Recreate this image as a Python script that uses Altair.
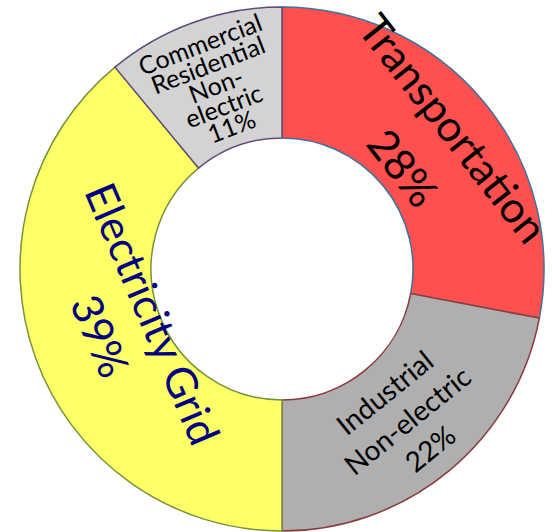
import altair as alt
import pandas as pd

categories = ["Transportation", "Industrial Non-electric", "Electricity Grid",
              "Commercial Residential Non-electric"]
shares = [28, 22, 39, 11]
labels = ["Transportation\n28%",
          "Industrial\nNon-electric\n22%",
          "Electricity Grid\n39%",
          "Commercial\nResidential\nNon-\nelectric\n11%"]

fills = ["#FF5050", "#AFAFAF", "#FFFF66", "#D3D3D3"]
edges = ["#41719C", "#8B3A3A", "#77933C", "#604A7B"]

# per-label text styling
label_radius = [187, 199, 168, 194]
label_angle = [52, 321, 67, 339]
label_size = [43, 28, 43, 25]
label_lh = [64, 36, 57, 22]
label_color = ["#000000", "#000000", "#000080", "#000000"]

df = pd.DataFrame({
    "category": categories,
    "share": shares,
    "idx": list(range(len(categories))),
    "label": labels,
})

base = alt.Chart(df).encode(
    theta=alt.Theta("share:Q", stack=True),
    order=alt.Order("idx:Q"),
)

arcs = base.mark_arc(innerRadius=131, outerRadius=262, strokeWidth=1.5).encode(
    color=alt.Color("category:N", scale=alt.Scale(domain=categories, range=fills), legend=None),
    stroke=alt.Stroke("category:N", scale=alt.Scale(domain=categories, range=edges), legend=None),
)

texts = []
for i in range(len(categories)):
    n_lines = labels[i].count("\n") + 1
    t = base.transform_calculate(
        t=f"datum.idx == {i} ? datum.label : ''"
    ).mark_text(
        font="Lato",
        lineBreak="\n",
        align="center",
        baseline="middle",
        radius=label_radius[i],
        angle=label_angle[i],
        fontSize=label_size[i],
        lineHeight=label_lh[i],
        dy=-(n_lines - 1) * label_lh[i] / 2,
        color=label_color[i],
    ).encode(
        text="t:N",
        detail="category:N",
    )
    texts.append(t)

chart = alt.layer(arcs, *texts).properties(
    width=540,
    height=526,
    padding={"left": 12, "top": 6, "right": 0, "bottom": 0},
    autosize="none",
).configure_view(stroke=None)

chart.save("out.html", embed_options={"renderer": "svg", "actions": False})
